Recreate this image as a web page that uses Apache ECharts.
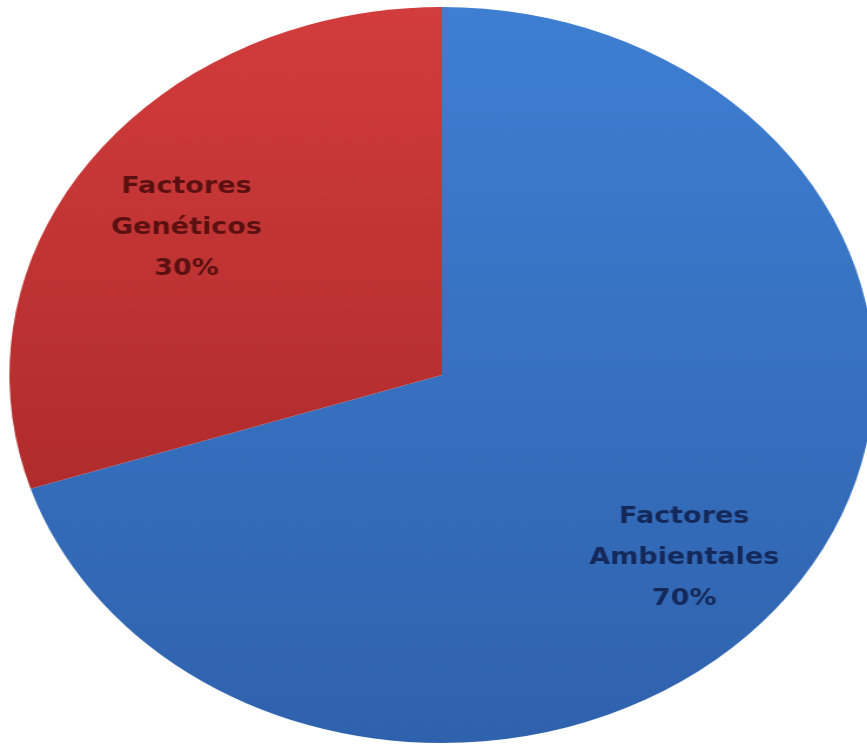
<!DOCTYPE html>
<html>
<head>
<meta charset="utf-8">
<script src="https://cdn.jsdelivr.net/npm/echarts@6/dist/echarts.min.js"></script>
<style>
html,body{margin:0;padding:0;background:#fff;overflow:hidden;}
#wrap{width:867px;height:747px;overflow:hidden;}
#c{width:738px;height:747px;transform:scaleX(1.175);transform-origin:0 0;}
</style>
</head>
<body>
<div id="wrap"><div id="c"></div></div>
<script>
var categories = ['Factores Ambientales', 'Factores Genéticos'];
var values = [70, 30];
var labels = ['Factores\nAmbientales\n70%', 'Factores\nGenéticos\n30%'];

var chart = echarts.init(document.getElementById('c'), null, {renderer: 'canvas'});
var blue = new echarts.graphic.LinearGradient(0, 0, 0, 1, [
  {offset: 0, color: '#3e7fd2'}, {offset: 1, color: '#2f62ad'}]);
var red = new echarts.graphic.LinearGradient(0, 0, 0, 1, [
  {offset: 0, color: '#d23c3c'}, {offset: 1, color: '#b02c2c'}]);
var colors = [blue, red];
var labelColors = ['#14295a', '#5a1010'];
var shifts = [[55, 73], [-66, -37]];

chart.setOption({
  animation: false,
  series: [{
    type: 'pie',
    center: [376, 375],
    radius: 368,
    startAngle: 90,
    clockwise: true,
    data: categories.map(function (n, i) {
      return {
        name: n, value: values[i],
        itemStyle: {color: colors[i]},
        label: {formatter: labels[i], color: labelColors[i]}
      };
    }),
    itemStyle: {borderWidth: 0},
    label: {
      show: true, position: 'inside',
      fontFamily: 'DejaVu Sans', fontSize: 23, fontWeight: 'bold',
      lineHeight: 41, align: 'center'
    },
    labelLine: {show: false},
    labelLayout: function (p) {
      return {dx: shifts[p.dataIndex][0], dy: shifts[p.dataIndex][1]};
    },
    emphasis: {disabled: true}
  }]
});
</script>
</body>
</html>
